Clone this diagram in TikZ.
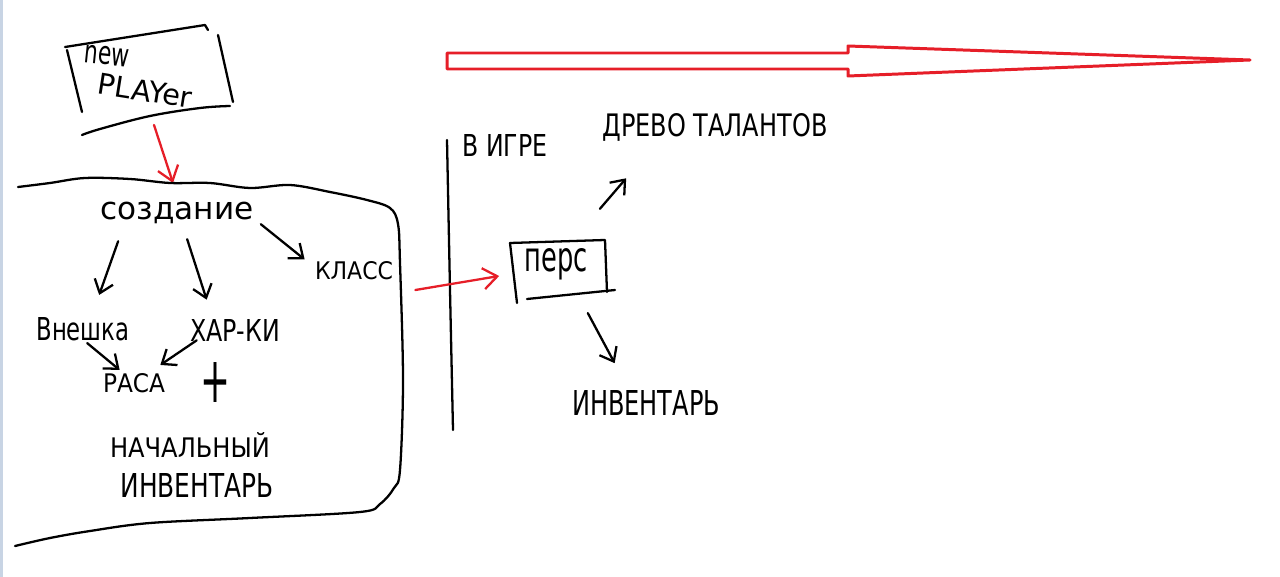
\documentclass[tikz,border=0pt]{standalone}
\usepackage{fontspec}
\setmainfont{DejaVu Sans}
\usetikzlibrary{arrows.meta}
\definecolor{skred}{RGB}{230,30,40}
\definecolor{edgeblue}{RGB}{200,212,228}
\newcommand\fitw[2]{\resizebox{#1}{!}{#2}}
\newcommand\fitwh[3]{\resizebox{#1}{#2}{#3}}
\begin{document}
\begin{tikzpicture}[x=0.02cm,y=-0.02cm,
  sk/.style={line width=1.3pt,line cap=round,line join=round},
  skarr/.style={sk,-{Straight Barb[length=7pt,width=11pt]}},
  redarr/.style={sk,skred,-{Straight Barb[length=8pt,width=12pt]}},
  bigred/.style={skred,line width=1.7pt,line join=round},
  lbl/.style={inner sep=0pt,anchor=center}]
\useasboundingbox (0,0) rectangle (1280,577);
\fill[white] (0,0) rectangle (1280,577);
\fill[edgeblue] (0,0) rectangle (3,577);

% big red outline arrow
\draw[bigred] (447,53) -- (848,53) -- (848,46) -- (1250,60) -- (848,76) -- (848,69) -- (447,69) -- cycle;

% new player box
\draw[sk] (65,47) -- (205,25) -- (208,30);
\draw[sk] (67,50) -- (82,112);
\draw[sk] (218,35) -- (233,102);
\draw[sk] plot[smooth,tension=0.6] coordinates {(82,135) (100,129) (150,116) (200,108) (230,106)};
\node[lbl,rotate=-6] (npnew) at (107,56) {\fitwh{0.9cm}{0.36cm}{new}};
\node[lbl,rotate=-9] (npplayer) at (145,91) {\fitw{1.9cm}{PLAYer}};
\coordinate (npb) at (154,125);
\coordinate (blobtop) at (173,183);
\draw[redarr] (npb) -- (blobtop);

% creation blob
\draw[sk] plot[smooth,tension=0.55] coordinates {(18,187) (50,183) (85,178) (130,179) (170,183) (210,183) (250,188) (290,185) (330,192) (367,200) (390,208) (398,224) (400,263) (403,380) (400,470) (394,488) (380,504) (360,512) (250,518) (150,523) (90,531) (50,538) (15,546)};

\node[lbl] (sozd) at (177,213) {\fitw{3.06cm}{создание}};
\node[lbl] (vn) at (83,329) {\fitwh{1.86cm}{0.46cm}{Внешка}};
\node[lbl] (har) at (235,331) {\fitwh{1.8cm}{0.44cm}{ХАР-КИ}};
\node[lbl] (klass) at (354,271) {\fitwh{1.56cm}{0.36cm}{КЛАСС}};
\node[lbl] (rasa) at (134,383) {\fitwh{1.24cm}{0.38cm}{РАСА}};
\node[lbl] (plus) at (215,383) {\resizebox{0.6cm}{0.8cm}{+}};
\node[lbl] (nach) at (190,445) {\fitwh{3.2cm}{0.5cm}{НАЧАЛЬНЫЙ}};
\node[lbl] (inv1) at (197,485) {\fitwh{3.06cm}{0.48cm}{ИНВЕНТАРЬ}};

\draw[skarr] ([shift={(18,17)}]sozd.south west) -- ([shift={(63,-22)}]vn.north west);
\draw[skarr] ([shift={(87,15)}]sozd.south west) -- ([shift={(17,-20)}]har.north west);
\draw[skarr] ([shift={(7,0)}]sozd.south east) -- ([shift={(-10,-2)}]klass.north west);
\draw[skarr] ([shift={(51,2)}]vn.south west) -- ([shift={(17,-3)}]rasa.north west);
\draw[skarr] ([shift={(7,-2)}]har.south west) -- ([shift={(-5,-8)}]rasa.north east);

% in game
\draw[sk] plot[smooth] coordinates {(447,140) (450,290) (453,430)};
\node[lbl] (vigre) at (505,146) {\fitwh{1.7cm}{0.44cm}{В ИГРЕ}};
\node[lbl] (drevo) at (715,127) {\fitwh{4.5cm}{0.46cm}{ДРЕВО ТАЛАНТОВ}};
\node[lbl] (pers) at (556,264) {\fitwh{1.26cm}{0.46cm}{перс}};
\node[lbl] (inv2) at (646,403) {\fitwh{2.96cm}{0.5cm}{ИНВЕНТАРЬ}};

\draw[sk] (510,243) -- (605,240) -- (607,292);
\draw[sk] (510,243) -- (517,303);
\draw[sk] (527,299) -- (615,290);

\draw[redarr] ([shift={(22,19)}]klass.east) -- ([shift={(-25,12)}]pers.west);
\draw[skarr] ([shift={(12,-39)}]pers.north east) -- ([shift={(24,37)}]drevo.south west);
\draw[skarr] ([shift={(0,33)}]pers.south east) -- ([shift={(43,-27)}]inv2.north west);
\end{tikzpicture}
\end{document}
